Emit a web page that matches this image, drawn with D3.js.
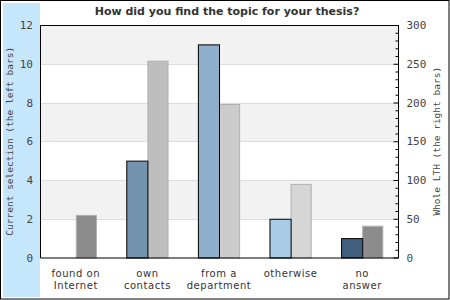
<!DOCTYPE html>
<html>
<head>
<meta charset="utf-8">
<script src="https://cdn.jsdelivr.net/npm/d3@7"></script>
<style>
  body { margin: 0; background: #fff; }
  text { fill: #444; }
</style>
</head>
<body>
<div id="chart"></div>
<script>
var categories = [['found on', 'Internet'], ['own', 'contacts'], ['from a', 'department'], ['otherwise'], ['no', 'answer']];
var currentValues = [0, 5, 11, 2, 1];
var wholeValues = [55, 254, 198, 95, 41];
var leftColors = ['#7090ad', '#7393ae', '#8eaecb', '#a9cbe6', '#3f5f7c'];
var rightColors = ['#8c8c8c', '#bebebe', '#cccccc', '#d6d6d6', '#8c8c8c'];
var leftTicks = [0, 2, 4, 6, 8, 10, 12];
var rightTicks = [0, 50, 100, 150, 200, 250, 300];

var W = 450, H = 300;
var margin = {top: 25, right: 52, bottom: 42.5, left: 40};
var width = W - margin.left - margin.right,
  height = H - margin.top - margin.bottom;

var root = d3.select('#chart').append('svg')
  .attr('width', W)
  .attr('height', H);

// side panel + frame
root.append('rect').attr('x', 3).attr('y', 3).attr('width', 37).attr('height', 294).attr('fill', '#c6e6fc');
root.append('rect').attr('x', 0.5).attr('y', 0.5).attr('width', 448.5).attr('height', 298.5)
  .attr('fill', 'none').attr('stroke', '#000');

root.append('text')
  .attr('x', 227).attr('y', 15)
  .attr('text-anchor', 'middle')
  .style('font', 'bold 11px "DejaVu Sans"')
  .style('fill', '#333')
  .text('How did you find the topic for your thesis?');

var svg = root.append('g')
  .attr('transform', 'translate(' + margin.left + ',' + margin.top + ')');

var x = d3.scaleBand()
  .domain(d3.range(categories.length))
  .range([0, width])
  .paddingInner(0.41)
  .paddingOuter(0.205);
var yL = d3.scaleLinear().domain([0, 12]).range([height, 0]);
var yR = d3.scaleLinear().domain([0, 300]).range([height, 0]);

// alternating bands
svg.selectAll('.band')
  .data(leftTicks.slice(0, -1))
  .enter().append('rect')
  .attr('x', 0)
  .attr('width', width)
  .attr('y', function(d) { return yL(d + 2); })
  .attr('height', function(d) { return yL(d) - yL(d + 2); })
  .attr('fill', function(d, i) { return i % 2 ? '#f2f2f2' : '#fff'; });

svg.selectAll('.grid')
  .data(leftTicks.slice(1, -1))
  .enter().append('line')
  .attr('x1', 0).attr('x2', width)
  .attr('y1', function(d) { return Math.round(yL(d)) + 0.5; })
  .attr('y2', function(d) { return Math.round(yL(d)) + 0.5; })
  .attr('stroke', '#dddddd');

var bw = x.bandwidth() / 2;

svg.selectAll('.barR')
  .data(wholeValues)
  .enter().append('rect')
  .attr('x', function(d, i) { return x(i) + bw + 0.5; })
  .attr('y', function(d) { return yR(d) + 0.5; })
  .attr('width', bw - 1)
  .attr('height', function(d) { return height - yR(d); })
  .attr('fill', function(d, i) { return rightColors[i]; })
  .attr('stroke', '#b0b0b0');

svg.selectAll('.barL')
  .data(currentValues.map(function(v, i) { return {v: v, i: i}; }).filter(function(d) { return d.v > 0; }))
  .enter().append('rect')
  .attr('x', function(d) { return x(d.i) + 0.5; })
  .attr('y', function(d) { return yL(d.v) + 0.5; })
  .attr('width', bw)
  .attr('height', function(d) { return height - yL(d.v); })
  .attr('fill', function(d) { return leftColors[d.i]; })
  .attr('stroke', '#000');

// plot outline: left, bottom, right
svg.append('path')
  .attr('d', 'M0.5,0V' + (height + 0.5) + 'H' + (width + 0.5) + 'V0')
  .attr('fill', 'none')
  .attr('stroke', '#000');
svg.append('line')
  .attr('x1', 0).attr('x2', width + 1)
  .attr('y1', 0.5).attr('y2', 0.5)
  .attr('stroke', '#000');

// left ticks
var lAxis = svg.append('g')
  .call(d3.axisLeft(yL).tickValues(leftTicks).tickSize(0).tickPadding(7));
lAxis.select('.domain').remove();
lAxis.selectAll('text').style('font', '11px "DejaVu Sans Mono"').style('fill', '#444');

// right ticks (inward)
var rAxis = svg.append('g')
  .attr('transform', 'translate(' + (width + 0.5) + ',0)')
  .call(d3.axisLeft(yR).tickValues(d3.range(0, 301, 10)).tickSizeInner(3).tickFormat(''));
rAxis.select('.domain').remove();
rAxis.selectAll('.tick line').attr('x2', function(d) { return d % 50 === 0 ? -5 : -3; }).attr('stroke', '#000');
var rLab = svg.append('g')
  .attr('transform', 'translate(' + (width + 0.5) + ',0)')
  .call(d3.axisRight(yR).tickValues(rightTicks).tickSize(0).tickPadding(8));
rLab.select('.domain').remove();
rLab.selectAll('text').style('font', '11px "DejaVu Sans Mono"').style('fill', '#444');

// category labels
var xl = svg.selectAll('.xl')
  .data(categories)
  .enter().append('text')
  .attr('text-anchor', 'middle')
  .attr('transform', function(d, i) { return 'translate(' + (x(i) + x.bandwidth() / 2) + ',' + (height + 19) + ')'; })
  .style('font', '10px "DejaVu Sans"')
  .style('letter-spacing', '0.55px')
  .style('fill', '#333');
xl.selectAll('tspan')
  .data(function(d) { return d; })
  .enter().append('tspan')
  .attr('x', 0)
  .attr('dy', function(d, i) { return i ? 12 : 0; })
  .text(function(d) { return d; });

// axis titles
root.append('text')
  .attr('transform', 'translate(13,' + (margin.top + height / 2) + ') rotate(-90)')
  .attr('text-anchor', 'middle')
  .style('font', '9.5px "DejaVu Sans Mono"')
  .text('Current selection (the left bars)');
root.append('text')
  .attr('transform', 'translate(440,' + (margin.top + height / 2) + ') rotate(-90)')
  .attr('text-anchor', 'middle')
  .style('font', '9.5px "DejaVu Sans Mono"')
  .text('Whole LTH (the right bars)');
</script>
</body>
</html>
